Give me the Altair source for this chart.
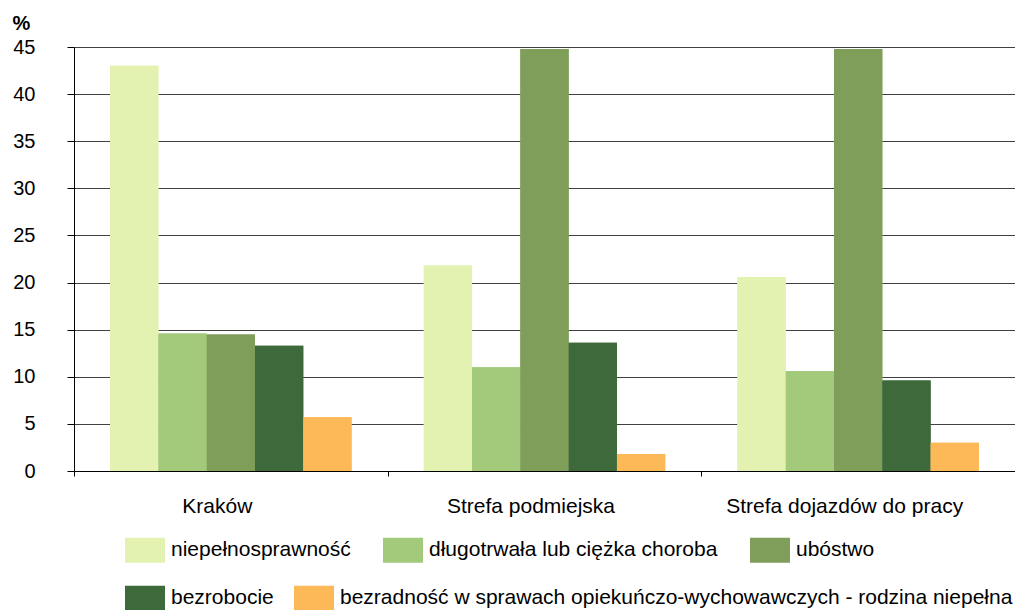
import altair as alt
import pandas as pd

categories = ["Kraków", "Strefa podmiejska", "Strefa dojazdów do pracy"]
series = [
    "niepełnosprawność",
    "długotrwała lub ciężka choroba",
    "ubóstwo",
    "bezrobocie",
    "bezradność w sprawach opiekuńczo-wychowawczych - rodzina niepełna",
]
niepelnosprawnosc = [43.0, 21.8, 20.6]
choroba = [14.6, 11.0, 10.6]
ubostwo = [14.5, 44.8, 44.8]
bezrobocie = [13.3, 13.6, 9.6]
bezradnosc = [5.7, 1.8, 3.0]
colors = ["#E3F2B1", "#A3C97A", "#7F9E5A", "#3D693B", "#FDB957"]
y_ticks = [0, 5, 10, 15, 20, 25, 30, 35, 40, 45]

values = [niepelnosprawnosc, choroba, ubostwo, bezrobocie, bezradnosc]
rows = []
for s, vals in zip(series, values):
    for c, v in zip(categories, vals):
        rows.append({"kategoria": c, "seria": s, "seria2": s, "wartosc": v})
df = pd.DataFrame(rows)

FONT = "Liberation Sans"

legend_common = dict(
    title=None,
    orient="none",
    direction="horizontal",
    padding=0,
    symbolType="M-1,-0.625H1V0.625H-1Z",
    symbolSize=1600,
    symbolStrokeWidth=0,
    symbolOpacity=1,
    labelOffset=6,
    labelFont=FONT,
    labelFontSize=21,
    labelColor="black",
    labelLimit=2000,
)

x_enc = alt.X(
    "kategoria:N",
    sort=categories,
    scale=alt.Scale(paddingInner=0, paddingOuter=0),
    axis=alt.Axis(
        title=None,
        labelAngle=0,
        labelFont=FONT,
        labelFontSize=21,
        labelColor="black",
        labelPadding=19,
        labelOffset=-14,
        labelLimit=2000,
        tickBand="extent",
        tickSize=5,
        tickColor="black",
        domainColor="black",
        grid=False,
    ),
)
xoff_enc = alt.XOffset(
    "seria:N",
    sort=series,
    scale=alt.Scale(domain=series, paddingInner=0, paddingOuter=0.7475),
)
y_enc = alt.Y(
    "wartosc:Q",
    scale=alt.Scale(domain=[0, 45], nice=False),
    axis=alt.Axis(
        values=y_ticks,
        title="%",
        titleAngle=0,
        titleAlign="left",
        titleBaseline="alphabetic",
        titleX=-62,
        titleY=-18,
        titleFont=FONT,
        titleFontSize=20,
        titleFontWeight="bold",
        titleColor="black",
        labelFont=FONT,
        labelFontSize=20,
        labelColor="black",
        labelPadding=32,
        tickSize=7,
        tickColor="black",
        domainColor="black",
        gridColor="#404040",
        gridWidth=1,
    ),
)

bars_top_legend = alt.Chart(df).mark_bar().encode(
    x=x_enc,
    xOffset=xoff_enc,
    y=y_enc,
    color=alt.Color(
        "seria:N",
        sort=series,
        scale=alt.Scale(domain=series, range=colors),
        legend=alt.Legend(
            values=series[:3],
            legendX=51,
            legendY=483,
            columnPadding=32,
            **legend_common,
        ),
    ),
)

bars_bottom_legend = alt.Chart(df).mark_bar().encode(
    x=x_enc,
    xOffset=xoff_enc,
    y=y_enc,
    color=alt.Color(
        "seria2:N",
        sort=series,
        scale=alt.Scale(domain=series, range=colors),
        legend=alt.Legend(
            values=series[3:],
            legendX=51,
            legendY=531,
            columnPadding=20,
            **legend_common,
        ),
    ),
)

chart = (
    alt.layer(bars_top_legend, bars_bottom_legend)
    .resolve_scale(color="independent")
    .resolve_legend(color="independent")
    .properties(
        width=941,
        height=424,
        autosize=alt.AutoSizeParams(type="none"),
        padding={"left": 66, "top": 39, "right": 0, "bottom": 140},
    )
    .configure_view(stroke=None)
)

chart.save("out.html", embed_options={"renderer": "svg", "actions": False})
